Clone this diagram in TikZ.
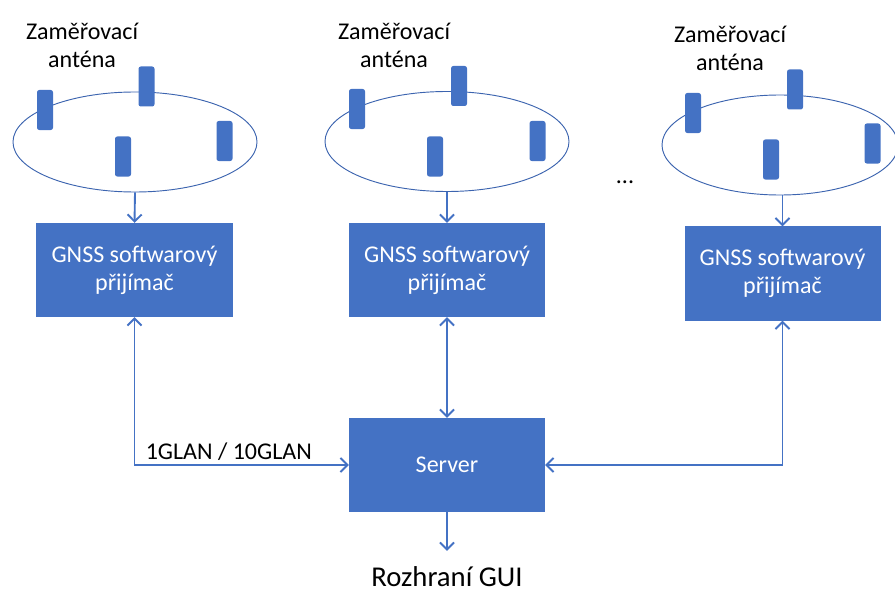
\documentclass[tikz,border=0pt]{standalone}
\usepackage{fontspec}
\setmainfont{Carlito}
\usepackage{tikz}
\usetikzlibrary{shapes.geometric, arrows.meta, positioning}
\definecolor{boxblue}{RGB}{68, 114, 196}
\definecolor{ringblue}{RGB}{60, 100, 175}

\begin{document}
\begin{tikzpicture}[
    x=0.03cm, y=-0.03cm,
    every node/.style={font=\fontsize{20.5}{24}\selectfont},
    receiver/.style={fill=boxblue, text=white, minimum width=5.88cm, minimum height=2.82cm, align=center, inner sep=0},
    antenna/.style={fill=boxblue, rounded corners=2pt, minimum width=0.48cm, minimum height=1.2cm, inner sep=0},
    ring/.style={draw=ringblue, line width=0.8pt, ellipse, minimum width=7.32cm, minimum height=3cm, inner sep=0},
    caption/.style={align=center, inner sep=0},
    link/.style={draw=boxblue, line width=1.6pt},
    tip/.style={-{Straight Barb[length=6pt, width=12pt]}},
    tips/.style={{Straight Barb[length=6pt, width=12pt]}-{Straight Barb[length=6pt, width=12pt]}}
]
    \useasboundingbox (0,0) rectangle (895,593);

    % Antenna groups
    \node[ring] (ring1) at (135,142) {};
    \node[ring] (ring2) at (447,141.5) {};
    \node[ring, minimum width=7.08cm] (ring3) at (780,145) {};

    \node[antenna] (ant1a) at (45,110) {};
    \node[antenna] (ant1b) at (146.5,86.5) {};
    \node[antenna] (ant1c) at (123,156.5) {};
    \node[antenna] (ant1d) at (224.5,141) {};

    \node[antenna] (ant2a) at (357,109) {};
    \node[antenna] (ant2b) at (459,86) {};
    \node[antenna] (ant2c) at (435,156.5) {};
    \node[antenna] (ant2d) at (537.5,141) {};

    \node[antenna] (ant3a) at (693,113) {};
    \node[antenna] (ant3b) at (795,89.5) {};
    \node[antenna] (ant3c) at (771,159.5) {};
    \node[antenna] (ant3d) at (872.5,143.5) {};

    \node[caption] (lbl1) at (82,45) {Zaměřovací\\anténa};
    \node[caption] (lbl2) at (394,45) {Zaměřovací\\anténa};
    \node[caption] (lbl3) at (730,48) {Zaměřovací\\anténa};
    \node[caption] (more) at (625,182) {...};

    % Receivers
    \node[receiver] (rcv1) at (134.5,270) {GNSS softwarový\\přijímač};
    \node[receiver] (rcv2) at (447,270) {GNSS softwarový\\přijímač};
    \node[receiver] (rcv3) at (782.5,273.5) {GNSS softwarový\\přijímač};

    % Server
    \node[receiver] (server) at (447,465) {Server};
    \node[caption, anchor=base, font=\fontsize{24.5}{29}\selectfont] (gui) at (447,586) {Rozhraní GUI};

    % Connections
    \draw[link, tip] (ring1.south) -- (rcv1.north);
    \draw[link, tip] (ring2.south) -- (rcv2.north);
    \draw[link, tip] (ring3.south -| rcv3.north) -- (rcv3.north);
    \draw[link, tips] (rcv1.south) |- (server.west) node[pos=0.72, above, text=black] {1GLAN / 10GLAN};
    \draw[link, tips] (rcv2.south) -- (server.north);
    \draw[link, tips] (rcv3.south) |- (server.east);
    \draw[link, tip] (server.south) -- ([yshift=0.45cm]gui.north);

\end{tikzpicture}
\end{document}
